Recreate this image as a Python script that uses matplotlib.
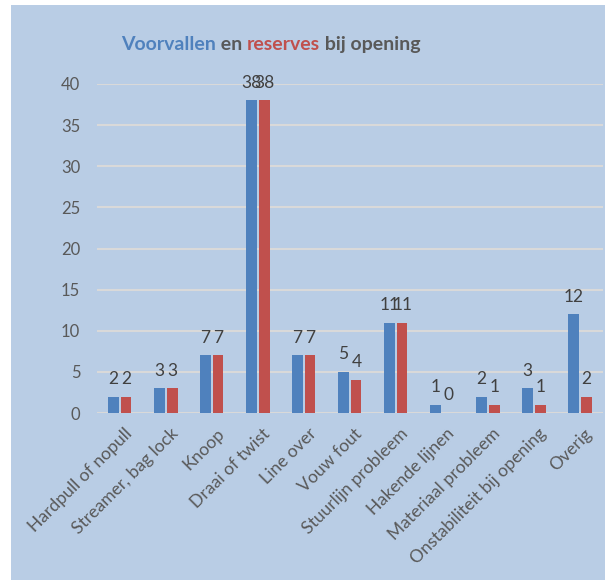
import matplotlib
matplotlib.use("Agg")
import matplotlib.pyplot as plt
from matplotlib.patches import Rectangle
import matplotlib.transforms as mtransforms
import numpy as np

# Gegevens
categories = ['Hardpull of nopull', 'Streamer, bag lock', 'Knoop', 'Draai of twist',
              'Line over', 'Vouw fout', 'Stuurlijn probleem', 'Hakende lijnen',
              'Materiaal probleem', 'Onstabiliteit bij opening', 'Overig']
voorvallen = [2, 3, 7, 38, 7, 5, 11, 1, 2, 3, 12]
reserves = [2, 3, 7, 38, 7, 4, 11, 0, 1, 1, 2]

blue = '#4F81BD'
red = '#C0504D'
grey = '#595959'
panel = '#B9CDE5'

plt.rcParams['font.family'] = ['Lato', 'DejaVu Sans']

fig = plt.figure(figsize=(6.05, 5.8), dpi=100, facecolor='white')
# lichtblauw kader (achter de grafiek)
fig.patches.append(Rectangle((11 / 605, 0), 1, 575 / 580, transform=fig.transFigure,
                             facecolor=panel, edgecolor='none', zorder=-10))

ax = fig.add_axes([97 / 605, 1 - 413 / 580, 506 / 605, (413 - 84) / 580])
ax.set_facecolor('none')
ax.set_zorder(2)

x = np.arange(len(categories))
w = 0.22
b1 = ax.bar(x - 0.14, voorvallen, w, color=blue, zorder=3)
b2 = ax.bar(x + 0.14, reserves, w, color=red, zorder=3)

for bars, vals in ((b1, voorvallen), (b2, reserves)):
    for rect, v in zip(bars, vals):
        ax.annotate(str(v), (rect.get_x() + rect.get_width() / 2, v),
                    xytext=(0, 7), textcoords='offset points',
                    ha='center', va='bottom', fontsize=12.5, color='#404040')

ax.set_ylim(0, 40)
ax.set_xlim(-0.5, 10.5)
ax.set_yticks(range(0, 41, 5))
ax.yaxis.grid(True, color='#D9D9D9', linewidth=1.5, zorder=0)
ax.set_axisbelow(True)
for s in ax.spines.values():
    s.set_visible(False)
ax.tick_params(axis='y', length=0, labelsize=12, colors=grey, pad=12)
ax.set_xticks(x)
ax.set_xticklabels(categories, rotation=45, ha='right', rotation_mode='anchor')
ax.tick_params(axis='x', length=0, labelsize=12.6, colors=grey, pad=9)
shift = mtransforms.ScaledTranslation(4 / 100, 0, fig.dpi_scale_trans)
for lab in ax.get_xticklabels():
    lab.set_transform(lab.get_transform() + shift)

# titel met gekleurde woorden
parts = [('Voorvallen', blue), (' en ', grey), ('reserves', red), (' bij opening', grey)]
fig.canvas.draw()
r = fig.canvas.get_renderer()
texts = []
total = 0
for s, c in parts:
    t = fig.text(0, 0, s, color=c, fontsize=14, fontweight='bold')
    bb = t.get_window_extent(r)
    texts.append((t, bb.width))
    total += bb.width
xpos = 271 - total / 2
for t, wd in texts:
    t.set_position((xpos / 605, 1 - 50 / 580))
    xpos += wd

fig.savefig('out.png', dpi=100, facecolor='white')
